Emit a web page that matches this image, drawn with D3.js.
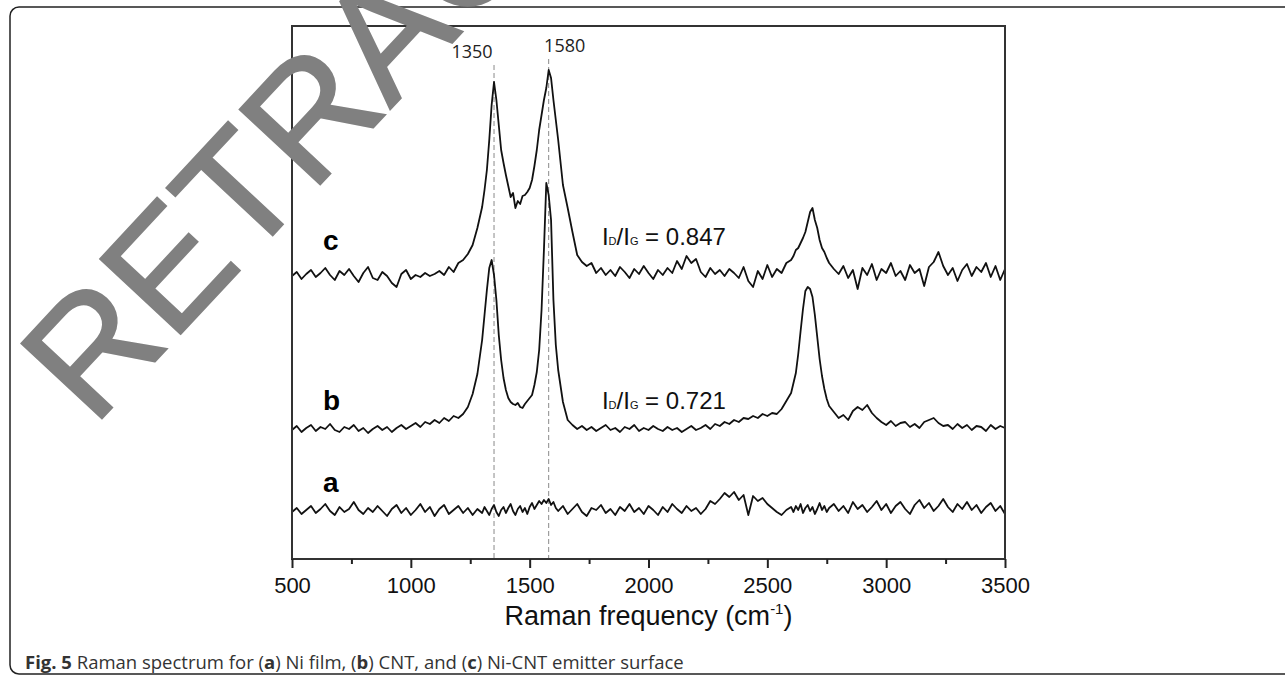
<!DOCTYPE html>
<html>
<head>
<meta charset="utf-8">
<script src="https://cdn.jsdelivr.net/npm/d3@7"></script>
<style>
  body { margin: 0; background: #fff; }
  svg { display: block; }
  text { font-family: "Liberation Sans", Arial, sans-serif; }
</style>
</head>
<body>
<svg id="chart"></svg>
<script>
// sampling grid (cm^-1), finer across the D/G and 2D bands
const wavenumbers = [].concat(
  d3.range(500, 1300, 20),
  d3.range(1300, 1620, 10),
  d3.range(1620, 2600, 20),
  d3.range(2600, 2760, 10),
  d3.range(2760, 3501, 20)
);

// stacked intensities (a.u.)
const spectrumA = [
  47, 51, 45, 49, 53, 46, 50, 55, 48, 44, 52, 47, 50, 57, 49, 45, 51, 47, 53, 48,
  43, 50, 54, 46, 51, 44, 49, 55, 47, 52, 43, 50, 54, 45, 49, 53, 46, 51, 44, 50,
  46, 52, 48, 44, 50, 54, 47, 43, 49, 52, 46, 51, 55, 48, 44, 50, 53, 47, 51, 45,
  52, 56, 50, 54, 58, 55, 59, 56, 60, 54, 57, 51,
  48, 53, 45, 50, 55, 47, 43, 51, 49, 54, 46, 50, 44, 52, 48, 55, 47, 51, 45, 53,
  49, 44, 52, 47, 55, 50, 46, 53, 48, 51, 45, 50, 58, 55, 60, 66, 62, 67, 59, 64,
  44, 63, 58, 61, 55, 51, 47, 44, 49,
  52, 47, 53, 49, 55, 46, 51, 54, 48, 52, 45, 50, 56, 49, 53, 47,
  51, 55, 48, 53, 46, 57, 50, 54, 47, 52, 58, 49, 55, 46, 53, 57, 50, 45, 54, 59,
  51, 56, 48, 53, 60, 52, 47, 55, 50, 57, 49, 54, 46, 52, 56, 48, 53, 45
];

const spectrumB = [
  129, 133, 127, 131, 134, 128, 132, 130, 135, 129, 127, 132, 130, 134, 128, 131, 126, 130, 133, 129,
  132, 127, 131, 134, 130, 133, 136, 132, 137, 135, 139, 136, 141, 138, 143, 141, 145, 152, 165, 185,
  219, 244, 269, 291, 299, 284, 259, 224, 199, 181, 169, 161, 157, 155, 154, 156, 152, 151, 155, 158,
  161, 164, 174, 187, 209, 249, 309, 376, 364, 339, 259, 214,
  189, 157, 139, 134, 130, 133, 129, 132, 128, 131, 134, 129, 131, 127, 132, 130, 134, 128, 131, 129,
  133, 130, 128, 132, 129, 131, 127, 130, 133, 129, 131, 134, 130, 135, 133, 137, 135, 139, 137, 141,
  140, 143, 141, 145, 143, 146, 145, 150, 158,
  166, 176, 186, 205, 228, 250, 268, 272, 270, 262, 244, 222, 200, 183, 170, 160,
  153, 147, 141, 144, 139, 148, 152, 149, 154, 146, 141, 137, 134, 138, 133, 136, 137, 132, 135, 131,
  137, 139, 141, 136, 133, 134, 130, 135, 131, 134, 129, 133, 132, 128, 134, 130, 133, 131
];

const spectrumC = [
  283, 287, 280, 285, 289, 282, 286, 291, 284, 279, 288, 284, 290, 283, 277, 286, 292, 281, 279, 287,
  283, 276, 272, 285, 289, 280, 284, 282, 286, 283, 285, 288, 284, 292, 287, 296, 299, 305, 314, 331,
  352, 369, 389, 419, 454, 477, 459, 434, 409, 396, 384, 373, 362, 366, 351, 358, 355, 363, 364, 367,
  371, 379, 393, 409, 429, 444, 459, 471, 489, 481, 459, 439,
  419, 374, 351, 327, 304, 297, 293, 296, 286, 291, 284, 289, 283, 292, 287, 281, 290, 285, 293, 286,
  280, 289, 284, 291, 286, 298, 290, 303, 296, 300, 287, 282, 291, 285, 289, 283, 290, 286, 281, 292,
  278, 272, 288, 280, 294, 282, 290, 286, 296,
  299, 303, 309, 311, 316, 321, 327, 337, 347, 351, 339, 331, 319, 311, 307, 301,
  296, 290, 285, 293, 281, 289, 270, 291, 284, 295, 279, 290, 286, 296, 283, 288, 279, 294, 286, 290,
  273, 292, 297, 307, 293, 284, 291, 278, 289, 295, 283, 292, 287, 296, 282, 293, 279, 290
];

const seriesNames = ["a", "b", "c"];
const ratioValues = [null, "0.721", "0.847"];
const peakPositions = [1350, 1580];
const majorTicks = [500, 1000, 1500, 2000, 2500, 3000, 3500];
const minorTicks = [750, 1250, 1750, 2250, 2750, 3250];

class RamanPlot {
  margin = { top: 26, right: 280, bottom: 117, left: 292 };

  constructor(svg, width = 1285, height = 676) {
    this.svg = svg;
    this.width = width;
    this.height = height;
  }

  initialize() {
    this.svg = d3.select(this.svg)
      .attr("width", this.width)
      .attr("height", this.height);

    this.x0 = this.margin.left;
    this.x1 = this.width - this.margin.right;
    this.y0 = this.height - this.margin.bottom;
    this.y1 = this.margin.top;

    this.xScale = d3.scaleLinear().domain([500, 3500]).range([this.x0, this.x1]);
    this.yScale = d3.scaleLinear().domain([0, 533]).range([this.y0, this.y1]);

    // page border
    this.svg.append("rect")
      .attr("x", 10).attr("y", 7)
      .attr("width", 1300).attr("height", 667)
      .attr("rx", 9)
      .attr("fill", "none")
      .attr("stroke", "#222")
      .attr("stroke-width", 1.5);

    this.container = this.svg.append("g");
    this.xAxis = this.svg.append("g");
    this.labels = this.svg.append("g");
  }

  update(series) {
    const x = this.xScale, y = this.yScale;

    // reference lines at the D and G bands
    this.container.selectAll("line.peak")
      .data(peakPositions)
      .join("line")
      .attr("class", "peak")
      .attr("x1", d => x(d)).attr("x2", d => x(d))
      .attr("y1", (d, i) => i === 0 ? 65 : 59)
      .attr("y2", this.y0)
      .attr("stroke", "#8a8a8a")
      .attr("stroke-width", 1)
      .attr("stroke-dasharray", "5,3");

    this.container.selectAll("text.peak")
      .data(peakPositions)
      .join("text")
      .attr("class", "peak")
      .attr("x", (d, i) => x(d) + (i === 0 ? -22 : 16))
      .attr("y", (d, i) => i === 0 ? 58 : 52)
      .attr("text-anchor", "middle")
      .style("font-family", "'Open Sans', sans-serif")
      .style("font-size", "18px")
      .attr("fill", "#222")
      .text(d => d);

    const line = d3.line()
      .x(d => x(d[0]))
      .y(d => y(d[1]));

    this.container.selectAll("path.spectrum")
      .data(series)
      .join("path")
      .attr("class", "spectrum")
      .attr("d", s => line(wavenumbers.map((w, i) => [w, s.values[i]])))
      .attr("fill", "none")
      .attr("stroke", "#111")
      .attr("stroke-width", 1.8)
      .attr("stroke-linejoin", "round");

    // frame
    this.container.append("rect")
      .attr("x", this.x0).attr("y", this.y1)
      .attr("width", this.x1 - this.x0)
      .attr("height", this.y0 - this.y1)
      .attr("fill", "none")
      .attr("stroke", "#333")
      .attr("stroke-width", 2);

    // axis
    this.xAxis.attr("transform", `translate(0, ${this.y0})`)
      .call(d3.axisBottom(x).tickValues(majorTicks).tickFormat(d3.format("d"))
        .tickSize(9).tickSizeOuter(0).tickPadding(9))
      .call(g => g.select(".domain").remove())
      .call(g => g.selectAll(".tick line").attr("stroke", "#222").attr("stroke-width", 2))
      .call(g => g.selectAll(".tick text")
        .attr("fill", "#111")
        .style("font-family", "'Liberation Sans', Arial, sans-serif")
        .style("font-size", "22px"));

    this.svg.append("g")
      .attr("transform", `translate(0, ${this.y0})`)
      .call(d3.axisBottom(x).tickValues(minorTicks).tickSize(5).tickFormat(""))
      .call(g => g.select(".domain").remove())
      .call(g => g.selectAll(".tick line").attr("stroke", "#222").attr("stroke-width", 2));

    const title = this.svg.append("text")
      .attr("x", (this.x0 + this.x1) / 2)
      .attr("y", 625)
      .attr("text-anchor", "middle")
      .attr("fill", "#111")
      .style("font-size", "27px");
    title.append("tspan").text("Raman frequency (cm");
    title.append("tspan").attr("dy", -11).style("font-size", "15px").text("-1");
    title.append("tspan").attr("dy", 11).text(")");

    // series letters and I_D/I_G ratios
    const letterLevel = [67, 149, 309];
    const ratioLevel = [null, 150, 314];

    this.labels.selectAll("text.name")
      .data(series)
      .join("text")
      .attr("class", "name")
      .attr("x", x(630))
      .attr("y", (d, i) => y(letterLevel[i]))
      .attr("fill", "#000")
      .style("font-size", "28px")
      .style("font-weight", "bold")
      .text(d => d.name);

    const ratios = this.labels.selectAll("text.ratio")
      .data(series.filter(d => d.ratio))
      .join("text")
      .attr("class", "ratio")
      .attr("x", x(1804))
      .attr("y", d => y(ratioLevel[series.indexOf(d)]))
      .attr("fill", "#111")
      .style("font-size", "24px");
    ratios.append("tspan").text("I");
    ratios.append("tspan").style("font-size", "11px").text("D");
    ratios.append("tspan").text("/I");
    ratios.append("tspan").style("font-size", "11px").text("G");
    ratios.append("tspan").text(d => " = " + d.ratio);

    // caption
    const caption = this.svg.append("text")
      .attr("x", 25).attr("y", 669)
      .attr("fill", "#333")
      .style("font-family", "'Open Sans', sans-serif")
      .style("font-size", "18.5px");
    [["Fig. 5", true], [" Raman spectrum for (", false], ["a", true], [") Ni film, (", false],
     ["b", true], [") CNT, and (", false], ["c", true], [") Ni-CNT emitter surface", false]]
      .forEach(([t, b]) => caption.append("tspan").style("font-weight", b ? "bold" : "normal").text(t));

    // watermark
    this.svg.append("text")
      .attr("transform", "translate(93, 428) rotate(-47)")
      .attr("fill", "#808080")
      .attr("stroke", "#808080")
      .attr("stroke-width", 2)
      .style("font-size", "160px")
      .text("RETRACTED");
  }
}

const series = seriesNames.map((name, i) => ({
  name,
  ratio: ratioValues[i],
  values: [spectrumA, spectrumB, spectrumC][i]
}));

const plot = new RamanPlot(document.getElementById("chart"));
plot.initialize();
plot.update(series);
</script>
</body>
</html>
